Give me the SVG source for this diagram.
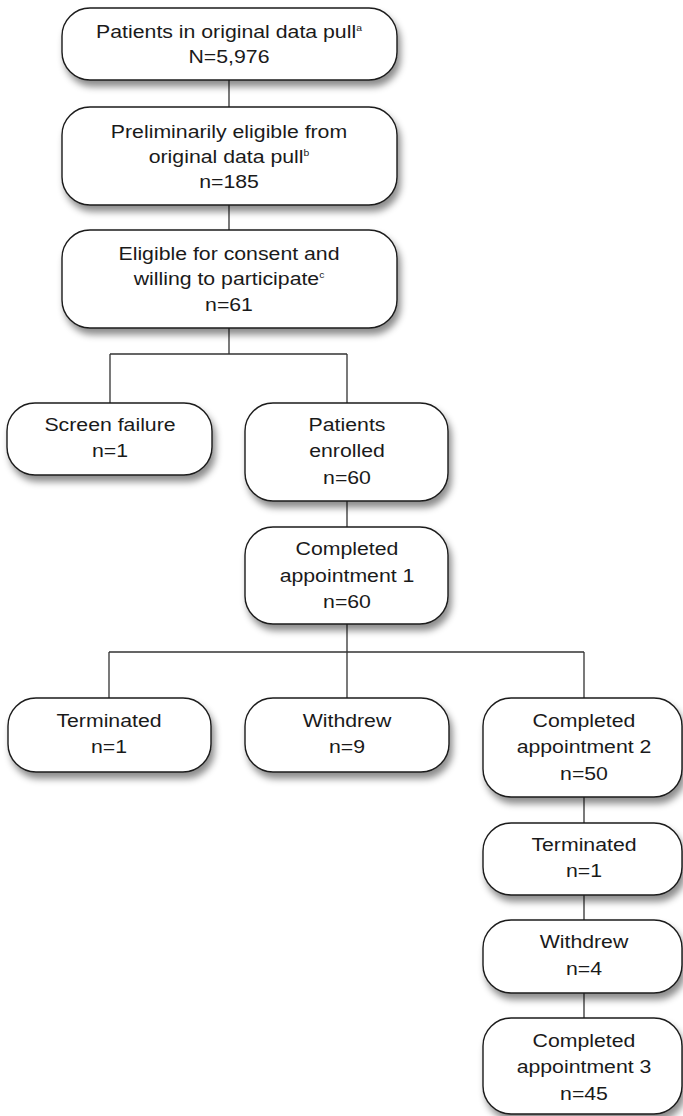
<svg xmlns="http://www.w3.org/2000/svg" width="683" height="1116" viewBox="0 0 683 1116">
<defs>
<filter id="sh" x="-10%" y="-10%" width="125%" height="140%">
<feDropShadow dx="3" dy="6" stdDeviation="3.5" flood-color="#000" flood-opacity="0.45"/>
</filter>
<style>
.box{fill:#fff;stroke:#1a1a1a;stroke-width:1.4;filter:url(#sh)}
.t{font-family:"Liberation Sans",Arial,Helvetica,sans-serif;font-size:18.5px;fill:#1a1a1a;text-anchor:middle}
.sup{font-size:9px}
.con{stroke:#333;stroke-width:1.3;fill:none}
</style>
</defs>
<rect width="683" height="1116" fill="#fff"/>
<g id="connectors">
<path class="con" d="M229 80V107M229 205V230M229 328V354M110 354H347M110 354V403M347 354V403M347 501V527M347 624V652M109 652H584M109 652V698M347 652V698M584 652V698M584 797V823M584 895V920M584 993V1018"/>
</g>
<g id="n1"><rect class="box" x="62" y="8" width="335" height="72" rx="28"/>
<g transform="translate(229 0) scale(1.15 1)">
<text class="t" x="0" y="38">Patients in original data pull<tspan class="sup" dy="-7">a</tspan></text>
<text class="t" x="0" y="63">N=5,976</text></g></g>
<g id="n2"><rect class="box" x="62" y="107" width="335" height="98" rx="28"/>
<g transform="translate(229 0) scale(1.15 1)">
<text class="t" x="0" y="138">Preliminarily eligible from</text>
<text class="t" x="0" y="163">original data pull<tspan class="sup" dy="-7">b</tspan></text>
<text class="t" x="0" y="188">n=185</text></g></g>
<g id="n3"><rect class="box" x="62" y="230" width="335" height="98" rx="28"/>
<g transform="translate(229 0) scale(1.15 1)">
<text class="t" x="0" y="260">Eligible for consent and</text>
<text class="t" x="0" y="285">willing to participate<tspan class="sup" dy="-7">c</tspan></text>
<text class="t" x="0" y="311">n=61</text></g></g>
<g id="n4"><rect class="box" x="7" y="403" width="205" height="72" rx="28"/>
<g transform="translate(110 0) scale(1.15 1)">
<text class="t" x="0" y="431">Screen failure</text>
<text class="t" x="0" y="457">n=1</text></g></g>
<g id="n5"><rect class="box" x="245" y="403" width="203" height="98" rx="28"/>
<g transform="translate(347 0) scale(1.15 1)">
<text class="t" x="0" y="431">Patients</text>
<text class="t" x="0" y="457">enrolled</text>
<text class="t" x="0" y="484">n=60</text></g></g>
<g id="n6"><rect class="box" x="245" y="527" width="203" height="97" rx="28"/>
<g transform="translate(347 0) scale(1.15 1)">
<text class="t" x="0" y="555">Completed</text>
<text class="t" x="0" y="582">appointment 1</text>
<text class="t" x="0" y="608">n=60</text></g></g>
<g id="n7"><rect class="box" x="8" y="698" width="203" height="74" rx="28"/>
<g transform="translate(109 0) scale(1.15 1)">
<text class="t" x="0" y="727">Terminated</text>
<text class="t" x="0" y="753">n=1</text></g></g>
<g id="n8"><rect class="box" x="245" y="698" width="204" height="74" rx="28"/>
<g transform="translate(347 0) scale(1.15 1)">
<text class="t" x="0" y="727">Withdrew</text>
<text class="t" x="0" y="753">n=9</text></g></g>
<g id="n9"><rect class="box" x="483" y="698" width="199" height="99" rx="28"/>
<g transform="translate(584 0) scale(1.15 1)">
<text class="t" x="0" y="727">Completed</text>
<text class="t" x="0" y="753">appointment 2</text>
<text class="t" x="0" y="780">n=50</text></g></g>
<g id="n10"><rect class="box" x="483" y="823" width="199" height="72" rx="28"/>
<g transform="translate(584 0) scale(1.15 1)">
<text class="t" x="0" y="851">Terminated</text>
<text class="t" x="0" y="877">n=1</text></g></g>
<g id="n11"><rect class="box" x="483" y="920" width="199" height="73" rx="28"/>
<g transform="translate(584 0) scale(1.15 1)">
<text class="t" x="0" y="948">Withdrew</text>
<text class="t" x="0" y="975">n=4</text></g></g>
<g id="n12"><rect class="box" x="483" y="1018" width="199" height="96" rx="28"/>
<g transform="translate(584 0) scale(1.15 1)">
<text class="t" x="0" y="1047">Completed</text>
<text class="t" x="0" y="1073">appointment 3</text>
<text class="t" x="0" y="1100">n=45</text></g></g>
</svg>
